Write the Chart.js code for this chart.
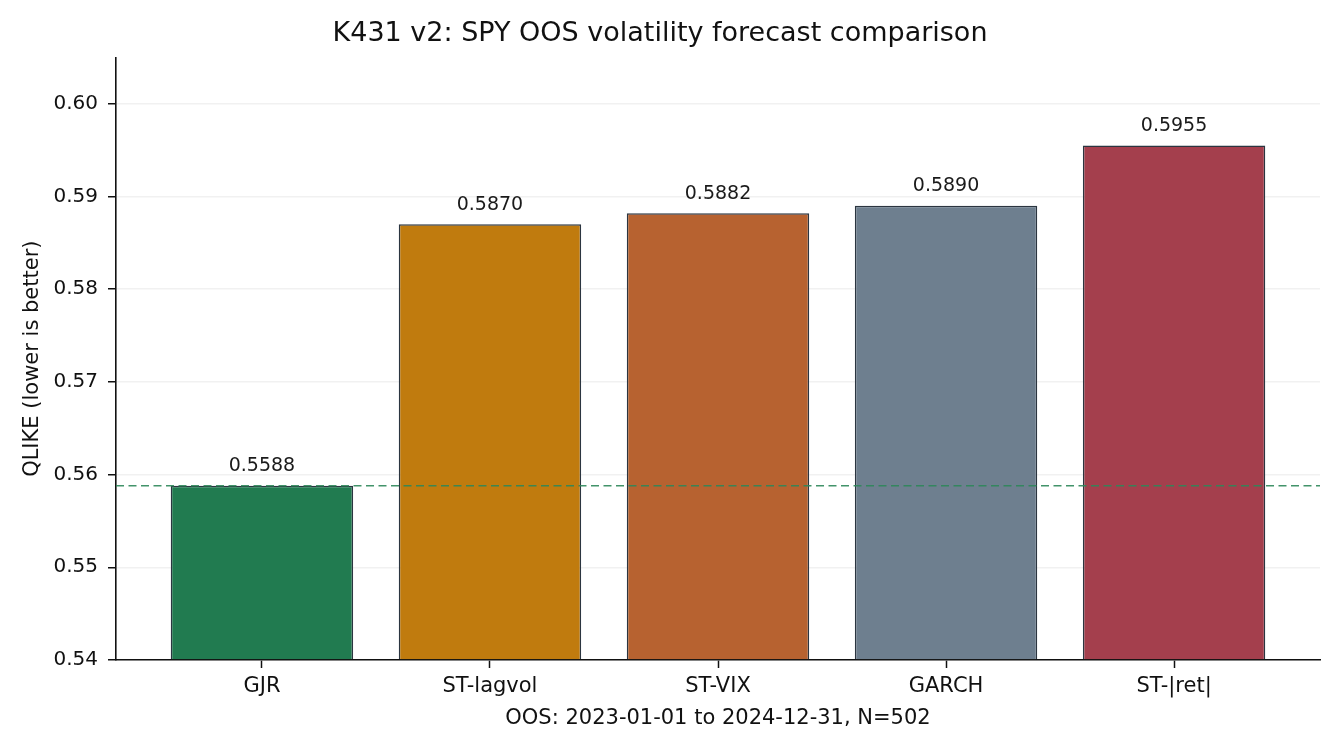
<!DOCTYPE html>
<html>
<head>
<meta charset="utf-8">
<script src="https://cdn.jsdelivr.net/npm/chart.js@4.4.1/dist/chart.umd.min.js"></script>
<style>
  html, body { margin: 0; padding: 0; background: #fff; }
  #wrap { width: 1344px; height: 752px; }
</style>
</head>
<body>
<div id="wrap"><canvas id="qlikeChart" width="1344" height="752"></canvas></div>
<script>
const models = ["GJR", "ST-lagvol", "ST-VIX", "GARCH", "ST-|ret|"];
const qlike = [0.5588, 0.5870, 0.5882, 0.5890, 0.5955];
const barColors = ["#217b50", "#c07b0e", "#b76230", "#6e7f8f", "#a43f4d"];
const yTicks = [0.54, 0.55, 0.56, 0.57, 0.58, 0.59, 0.60];
const Y_MIN = 0.54;
const Y_MAX = 0.605;
const X_MIN = -0.64;
const X_MAX = 4.64;

const FONT = "'DejaVu Sans', sans-serif";
const best = Math.min(...qlike);

// value labels above each bar
const valueLabels = {
  id: "valueLabels",
  afterDatasetsDraw(chart) {
    const { ctx } = chart;
    const meta = chart.getDatasetMeta(0);
    ctx.save();
    ctx.font = "19px " + FONT;
    ctx.fillStyle = "#1a1a1a";
    ctx.textAlign = "center";
    ctx.textBaseline = "bottom";
    meta.data.forEach((bar, i) => {
      ctx.fillText(qlike[i].toFixed(4), bar.x, bar.y - 10);
    });
    ctx.restore();
  }
};

// dashed reference line at the best (lowest) score
const bestLine = {
  id: "bestLine",
  afterDatasetsDraw(chart) {
    const { ctx, chartArea } = chart;
    const y = chart.scales.y.getPixelForValue(best);
    ctx.save();
    ctx.strokeStyle = "rgba(45,135,90,0.9)";
    ctx.lineWidth = 1.6;
    ctx.setLineDash([8, 4.5]);
    ctx.beginPath();
    ctx.moveTo(chartArea.left, y);
    ctx.lineTo(chartArea.right, y);
    ctx.stroke();
    ctx.restore();
  }
};

new Chart(document.getElementById("qlikeChart"), {
  type: "bar",
  data: {
    datasets: [{
      data: qlike.map((v, i) => ({ x: i, y: v })),
      backgroundColor: barColors,
      borderColor: "#2b3540",
      borderWidth: 1.5,
      borderSkipped: "start",
      base: Y_MIN,
      categoryPercentage: 1.0,
      barPercentage: 0.8
    }]
  },
  options: {
    responsive: false,
    animation: false,
    devicePixelRatio: 1,
    layout: { padding: { left: 0, right: 24, top: 0, bottom: 0 } },
    plugins: {
      legend: { display: false },
      tooltip: { enabled: false },
      title: {
        display: true,
        text: "K431 v2: SPY OOS volatility forecast comparison",
        color: "#111",
        font: { family: FONT, size: 27, weight: "normal" },
        padding: { top: 18, bottom: 7 }
      }
    },
    scales: {
      x: {
        type: "linear",
        min: X_MIN,
        max: X_MAX,
        offset: false,
        afterFit: s => { s.height = 92; },
        afterBuildTicks: s => { s.ticks = models.map((m, i) => ({ value: i })); },
        ticks: {
          stepSize: 1,
          includeBounds: false,
          autoSkip: false,
          maxRotation: 0,
          padding: 6,
          color: "#111",
          font: { family: FONT, size: 21 },
          callback: v => models[v]
        },
        grid: { offset: false, drawOnChartArea: false, drawTicks: true, tickLength: 8, tickColor: "#111", tickWidth: 1.5 },
        border: { display: true, color: "#111", width: 1.6 },
        title: {
          display: true,
          text: "OOS: 2023-01-01 to 2024-12-31, N=502",
          color: "#111",
          font: { family: FONT, size: 21 },
          padding: { top: 0, bottom: 21 }
        }
      },
      y: {
        min: Y_MIN,
        max: Y_MAX,
        z: 1,
        afterFit: s => { s.width = 116; },
        afterBuildTicks: s => { s.ticks = yTicks.map(v => ({ value: v })); },
        ticks: {
          stepSize: 0.01,
          includeBounds: false,
          padding: 10,
          color: "#111",
          font: { family: FONT, size: 20 },
          callback: v => Number(v).toFixed(2)
        },
        grid: {
          color: "rgba(220,220,220,0.4)",
          lineWidth: 1.5,
          tickLength: 8,
          tickColor: "#111",
          tickWidth: 1.5
        },
        border: { display: true, color: "#111", width: 1.6 },
        title: {
          display: true,
          text: "QLIKE (lower is better)",
          color: "#111",
          font: { family: FONT, size: 21 },
          padding: { top: 20, bottom: 0 }
        }
      }
    }
  },
  plugins: [valueLabels, bestLine]
});
</script>
</body>
</html>
